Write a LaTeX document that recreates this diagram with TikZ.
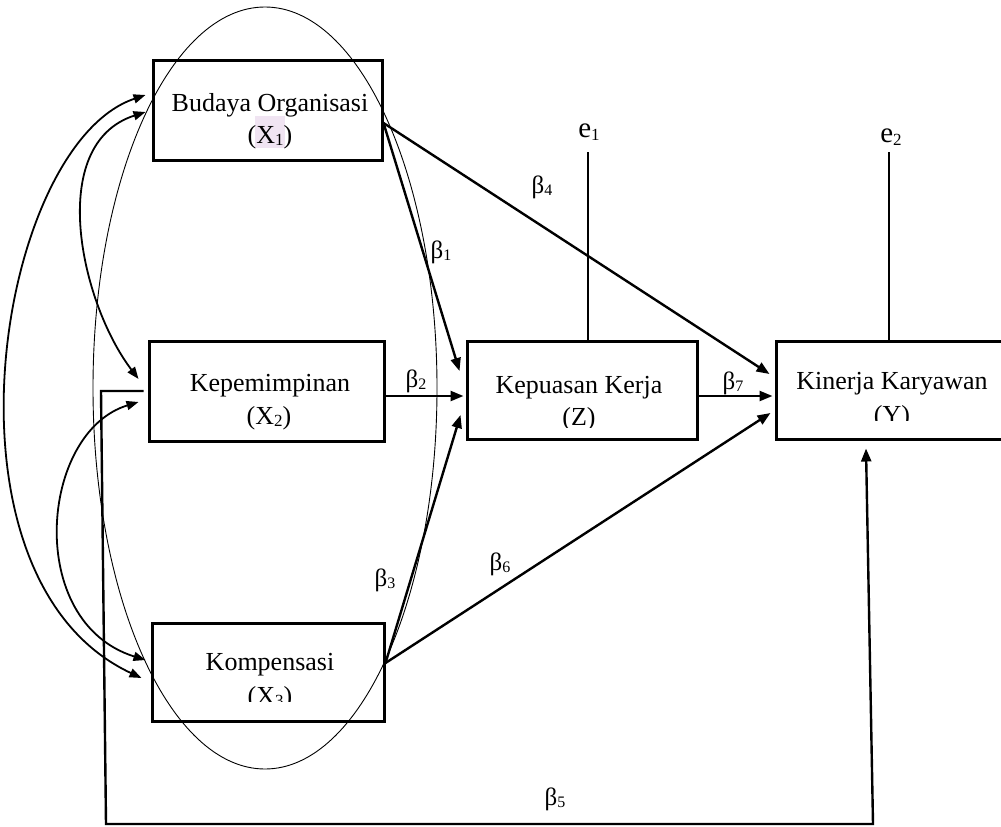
\documentclass[tikz,border=0pt]{standalone}
\usepackage{fontspec}
\setmainfont{Liberation Serif}
\usetikzlibrary{arrows.meta,calc}
\newcommand\lowidx[2]{\raisebox{-0.1em}{\fontsize{#1}{#1}\selectfont #2}}
\definecolor{hilite}{RGB}{240,228,242}
\begin{document}
\begin{tikzpicture}[x=1pt,y=-1pt,
  box/.style={draw, line width=3pt, rectangle, inner sep=0pt},
  lbl/.style={font=\fontsize{26}{30}\selectfont, anchor=base, inner sep=0pt},
  coef/.style={font=\fontsize{25}{28}\selectfont, inner sep=0pt},
  errlbl/.style={font=\fontsize{29}{32}\selectfont, inner sep=0pt},
  effect/.style={line width=2.4pt, -{Triangle[length=13pt,width=10pt]}},
  corr/.style={line width=1.8pt, {Triangle[length=12pt,width=9pt]}-{Triangle[length=12pt,width=9pt]}},
  fine/.style={line width=0.9pt}]
\useasboundingbox (0,0) rectangle (1001,827);

% construct boxes
\node[box, minimum width=229pt, minimum height=100pt] (x1) at (267.5,110) {};
\node[box, minimum width=235pt, minimum height=100pt] (x2) at (266.5,391) {};
\node[box, minimum width=232pt, minimum height=98pt]  (x3) at (268,672) {};
\node[box, minimum width=230pt, minimum height=98pt]  (z)  at (582,390) {};
\node[box, minimum width=232pt, minimum height=98pt]  (y)  at (892,390) {};

% box labels
\fill[hilite] (255,116) rectangle (285,148);
\node[lbl] (t1a) at (270,111) {Budaya Organisasi};
\node[lbl] (t1b) at (270,143) {(X\lowidx{17}{1})};
\node[lbl] (t2a) at (270,391) {Kepemimpinan};
\node[lbl] (t2b) at (269,424) {(X\lowidx{17}{2})};
\node[lbl] (t3a) at (270,670) {Kompensasi};
\begin{scope}
  \clip (200,660) rectangle (340,701);
  \node[lbl] (t3b) at (270,704) {(X\lowidx{17}{3})};
\end{scope}
\node[lbl] (tza) at (579,393) {Kepuasan Kerja};
\begin{scope}
  \clip (520,400) rectangle (640,427);
  \node[lbl] (tzb) at (579,425) {(Z)};
\end{scope}
\node[lbl] (tya) at (892,389) {Kinerja Karyawan};
\begin{scope}
  \clip (840,398) rectangle (950,420);
  \node[lbl] (tyb) at (892,423) {(Y)};
\end{scope}

% large thin ellipse around the exogenous variables
\draw[fine] (265,388) ellipse [x radius=172pt, y radius=381pt];

% ports on the boxes
\coordinate (x1r) at ($(x1.east)+(0,13)$);
\coordinate (x1la) at ($(x1.west)+(-6,-15)$);
\coordinate (x1lb) at ($(x1.west)+(-6,2)$);
\coordinate (x2la) at ($(x2.west)+(-9,-12)$);
\coordinate (x2lb) at ($(x2.west)+(-9,11)$);
\coordinate (x2lc) at ($(x2.west)+(-4,0)$);
\coordinate (x2r) at ($(x2.east)+(0,5)$);
\coordinate (x3la) at ($(x3.west)+(-5,-12)$);
\coordinate (x3lb) at ($(x3.west)+(-9,6)$);
\coordinate (x3r) at ($(x3.east)+(0,-9)$);
\coordinate (zla) at ($(z.west)+(-6,-19)$);
\coordinate (zlb) at ($(z.west)+(-2,6)$);
\coordinate (zlc) at ($(z.west)+(-5,25)$);
\coordinate (zr) at ($(z.east)+(0,6)$);
\coordinate (zt) at ($(z.north)+(6,0)$);
\coordinate (yla) at ($(y.west)+(-5,-16)$);
\coordinate (ylb) at ($(y.west)+(-2,6)$);
\coordinate (ylc) at ($(y.west)+(-4,23)$);
\coordinate (yb) at ($(y.south)+(-26,8)$);
\coordinate (yt) at ($(y.north)+(-3,0)$);

% error terms
\coordinate (e1end) at (588,152);
\coordinate (e2end) at (889,152);
\draw[line width=2pt] (zt) -- (e1end);
\draw[line width=2pt] (yt) -- (e2end);
\node[errlbl] (e1) at (589,132) {e\lowidx{17}{1}};
\node[errlbl] (e2) at (891,137) {e\lowidx{17}{2}};

% correlations between the exogenous variables
\draw[corr] (x1la) .. controls (-3,145) and (-72,578) .. (x3lb);
\draw[corr] (x1lb) .. controls (46,144) and (80,302) .. (x2la);
\draw[corr] (x2lb) .. controls (40,432) and (24,622) .. (x3la);

% direct effects
\draw[effect] (x1r) -- (zla);
\draw[effect] (x2r) -- (zlb);
\draw[effect] (x3r) -- (zlc);
\draw[effect] (x1r) -- (yla);
\draw[effect] (zr) -- (ylb);
\draw[effect] (x3r) -- (ylc);

% effect of X2 on Y routed below the diagram
\coordinate (b5a) at (101,391);
\coordinate (b5b) at (106,824);
\coordinate (b5c) at (873,824);
\draw[effect] (x2lc) -- (b5a) -- (b5b) -- (b5c) -- (yb);

% path coefficients
\node[coef] (c1) at (441,252) {β\lowidx{16}{1}};
\node[coef] (c2) at (416,381) {β\lowidx{16}{2}};
\node[coef] (c3) at (385,580) {β\lowidx{16}{3}};
\node[coef] (c4) at (542,187) {β\lowidx{16}{4}};
\node[coef] (c5) at (555,799) {β\lowidx{16}{5}};
\node[coef] (c6) at (500,564) {β\lowidx{16}{6}};
\node[coef] (c7) at (733,383) {β\lowidx{16}{7}};
\end{tikzpicture}
\end{document}
